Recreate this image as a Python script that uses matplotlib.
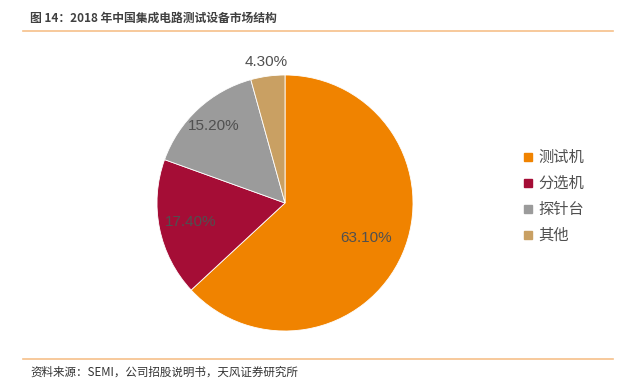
import numpy as np
import matplotlib
matplotlib.use('Agg')
import matplotlib.pyplot as plt
from matplotlib.lines import Line2D
from matplotlib.patches import Rectangle

plt.rcParams['font.family'] = ['Noto Sans CJK SC', 'DejaVu Sans']

categories = ['测试机', '分选机', '探针台', '其他']
shares = [63.1, 17.4, 15.2, 4.3]
colors = ['#F08300', '#A50D36', '#9B9B9B', '#C9A063']
label_dist = [0.69, 0.75, 0.82, 1.11]

title = '图 14：2018 年中国集成电路测试设备市场结构'
source = '资料来源：SEMI，公司招股说明书，天风证券研究所'

W, H = 639, 392
fig = plt.figure(figsize=(W / 100, H / 100), dpi=100)

# pie axes: center (285, 203) px, radius 128 px
cx, cy, r = 285, 203, 128
ax = fig.add_axes([(cx - r) / W, (H - cy - r) / H, 2 * r / W, 2 * r / H])
wedges, _ = ax.pie(shares, colors=colors, startangle=90, counterclock=False,
                   radius=1, wedgeprops=dict(linewidth=0.6, edgecolor='white'))
ax.set_xlim(-1, 1)
ax.set_ylim(-1, 1)
ax.set_aspect('equal')

for w, v, d in zip(wedges, shares, label_dist):
    mid = np.deg2rad((w.theta1 + w.theta2) / 2)
    ax.text(d * np.cos(mid), d * np.sin(mid), '%.2f%%' % v,
            ha='center', va='center', fontsize=11, color='#505050',
            family=['Liberation Sans', 'DejaVu Sans'])

# legend
for i, (name, c) in enumerate(zip(categories, colors)):
    y = 1 - (157 + 26 * i) / H
    fig.patches.append(Rectangle((524 / W, y - 4 / H), 8 / W, 8 / H,
                                 transform=fig.transFigure, color=c))
    fig.text(538 / W, y, name, fontsize=11, color='#505050', va='center', ha='left')

# title, rules, source
fig.text(30 / W, 1 - 18 / H, title, fontsize=8.5, color='#404040',
         va='center', ha='left', fontweight='bold')
fig.lines.append(Line2D([23 / W, 613 / W], [1 - 31 / H] * 2,
                        transform=fig.transFigure, color='#F6C08A', linewidth=1.2))
fig.lines.append(Line2D([23 / W, 613 / W], [1 - 359 / H] * 2,
                        transform=fig.transFigure, color='#F6C08A', linewidth=1.2))
fig.text(30 / W, 1 - 372 / H, source, fontsize=8.3, color='#333333',
         va='center', ha='left')

fig.savefig('out.png', dpi=100)
